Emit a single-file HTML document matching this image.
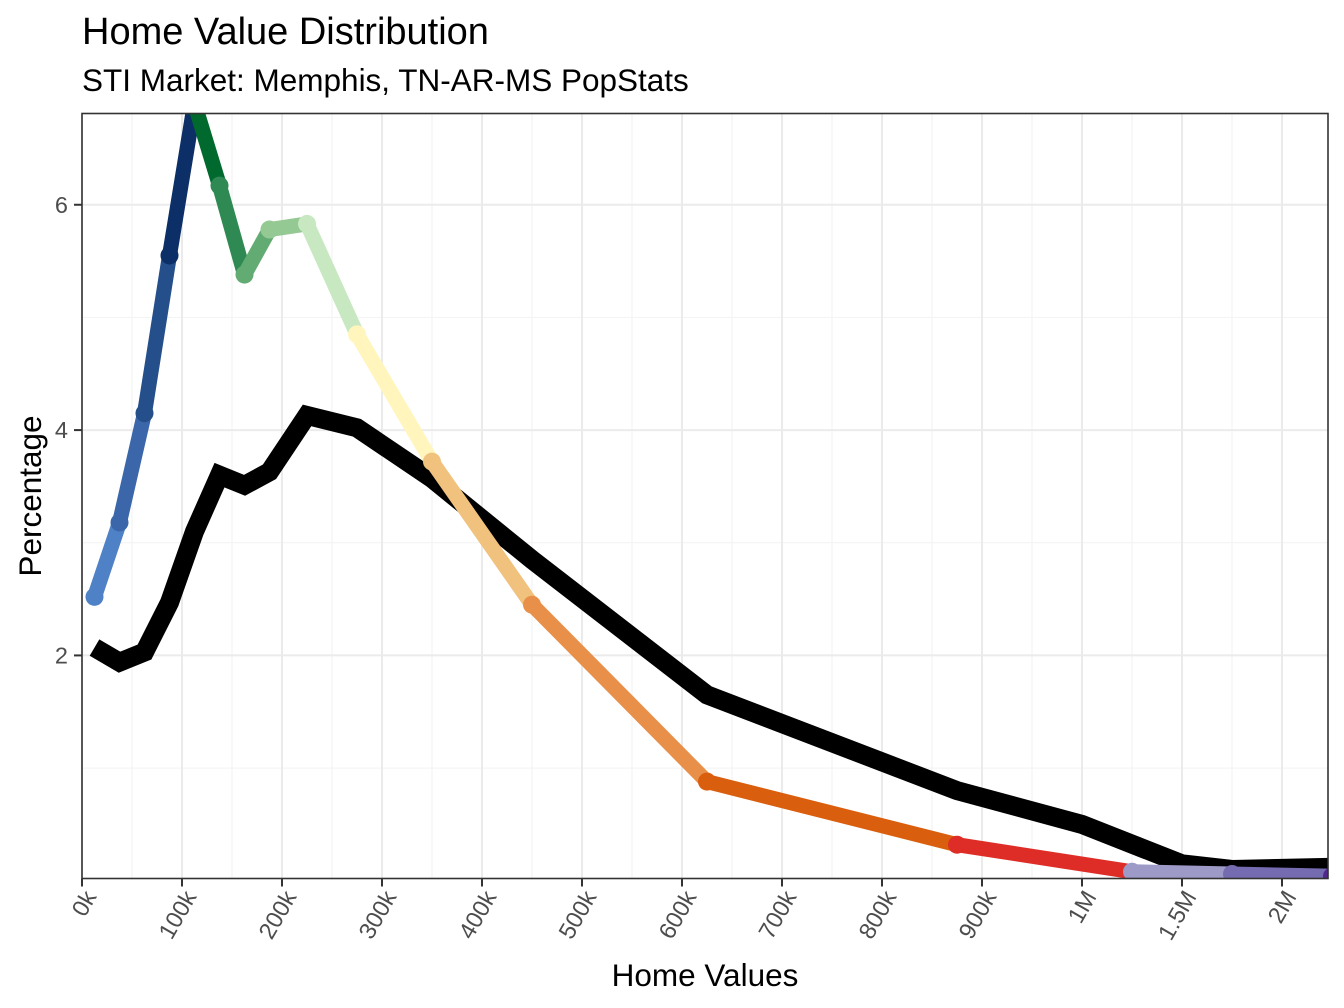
<!DOCTYPE html>
<html><head><meta charset="utf-8">
<style>
html,body{margin:0;padding:0;background:#fff;}
svg{display:block;font-family:"Liberation Sans",Arial,sans-serif;}
</style></head>
<body>
<svg id="chart" width="1344" height="1008" viewBox="0 0 1344 1008" xmlns="http://www.w3.org/2000/svg">
<rect x="0" y="0" width="1344" height="1008" fill="#fff"/>
<text x="82" y="44" font-size="38" fill="#000">Home Value Distribution</text>
<text x="82" y="91" font-size="31.5" fill="#000">STI Market: Memphis, TN-AR-MS PopStats</text>
<g id="grid"></g>
<g id="series"></g>
<rect x="82" y="113.5" width="1246" height="765" fill="none" stroke="#333" stroke-width="1.6"/>
<g id="axes"></g>
<text x="705" y="986" font-size="31.5" text-anchor="middle" fill="#000">Home Values</text>
<text transform="translate(41,496) rotate(-90)" font-size="31.5" text-anchor="middle" fill="#000">Percentage</text>
</svg>
<script>
// x positions in axis "tick units" (0k..900k = 0..9, 1M = 10, 1.5M = 11, 2M = 12)
const tickLabels = ["0k","100k","200k","300k","400k","500k","600k","700k","800k","900k","1M","1.5M","2M"];
const yTicks = [2,4,6];
const marketX = [0.125,0.375,0.625,0.875,1.125,1.375,1.625,1.875,2.25,2.75,3.5,4.5,6.25,8.75,10.5,11.5,12.5];
const marketY = [2.52,3.18,4.15,5.55,6.9,6.17,5.38,5.78,5.83,4.85,3.72,2.45,0.88,0.32,0.08,0.06,0.04];
const segColors = ["#4f81c7","#3b67aa","#244f8a","#0b2f66","#006a2e","#2e8a52","#62ab72","#94c993","#c7e8c0","#fff5bd","#f0c27e","#e8904a","#d95f0e","#de2d26","#9e9ac8","#756bb1","#54278f"];
const compX = [0.125,0.375,0.625,0.875,1.125,1.375,1.625,1.875,2.25,2.75,3.5,4.5,6.25,8.75,10,11,11.5,12.5];
const compY = [2.07,1.94,2.03,2.47,3.1,3.6,3.51,3.63,4.13,4.02,3.57,2.85,1.65,0.8,0.5,0.15,0.1,0.12];

const X0=82, X1=1328, Y0=878.5, Y1=113.5;
const xMin=0, xMax=12.46, yMin=0.02, yMax=6.81;
const sx = v => X0 + (v-xMin)/(xMax-xMin)*(X1-X0);
const sy = v => Y0 - (v-yMin)/(yMax-yMin)*(Y0-Y1);
const NS="http://www.w3.org/2000/svg";
function mk(tag, attrs, parent){const e=document.createElementNS(NS,tag);for(const k in attrs)e.setAttribute(k,attrs[k]);parent.appendChild(e);return e;}

const grid=document.getElementById('grid');
const series=document.getElementById('series');
const axes=document.getElementById('axes');

for(let i=0;i<tickLabels.length;i++){
  const v=i+0.5; if(v>xMax) continue;
  const l=mk('line',{x1:sx(v),x2:sx(v),y1:Y1,y2:Y0,stroke:'#f2f2f2','stroke-width':1},grid);
  
  
}
[1,3,5].forEach(v=>{
  const l=mk('line',{x1:X0,x2:X1,y1:sy(v),y2:sy(v),stroke:'#f2f2f2','stroke-width':1},grid);
  
  
});
tickLabels.forEach((lab,i)=>{
  const x=sx(i);
  const g=mk('line',{x1:x,x2:x,y1:Y1,y2:Y0,stroke:'#ebebeb','stroke-width':2},grid);
  
  
  const t=mk('line',{x1:x,x2:x,y1:Y0,y2:Y0+8,stroke:'#333','stroke-width':2},axes);
  
  
  const tx=mk('text',{transform:`translate(${x+8},${Y0+14}) rotate(-60)`,'text-anchor':'end','font-size':23.5,fill:'#4d4d4d',dy:'0.35em'},axes);
  tx.textContent=lab;
  
  
});
yTicks.forEach(v=>{
  const y=sy(v);
  const g=mk('line',{x1:X0,x2:X1,y1:y,y2:y,stroke:'#ebebeb','stroke-width':2},grid);
  
  
  const t=mk('line',{x1:X0-8,x2:X0,y1:y,y2:y,stroke:'#333','stroke-width':2},axes);
  
  
  const tx=mk('text',{x:X0-14,y:y+8,'text-anchor':'end','font-size':23.5,fill:'#4d4d4d'},axes);
  tx.textContent=String(v);
  
  
});

const defs=mk('defs',{},series);
const cp=mk('clipPath',{id:'clip'},defs);
mk('rect',{x:X0,y:Y1,width:X1-X0,height:Y0-Y1},cp);
const inner=mk('g',{'clip-path':'url(#clip)'},series);

const pts=compX.map((x,i)=>sx(x)+','+sy(compY[i])).join(' ');
const bl=mk('polyline',{points:pts,fill:'none',stroke:'#000','stroke-width':19,'stroke-linejoin':'miter','stroke-linecap':'butt'},inner);



for(let i=0;i<marketX.length;i++){
  const c=segColors[i];
  if(i<marketX.length-1){
    const s=mk('line',{x1:sx(marketX[i]),y1:sy(marketY[i]),x2:sx(marketX[i+1]),y2:sy(marketY[i+1]),stroke:c,'stroke-width':15,'stroke-linecap':'butt'},inner);
    
    
  }
  const d=mk('circle',{cx:sx(marketX[i]),cy:sy(marketY[i]),r:9,fill:c},inner);
  
  
}
</script>
</body></html>
